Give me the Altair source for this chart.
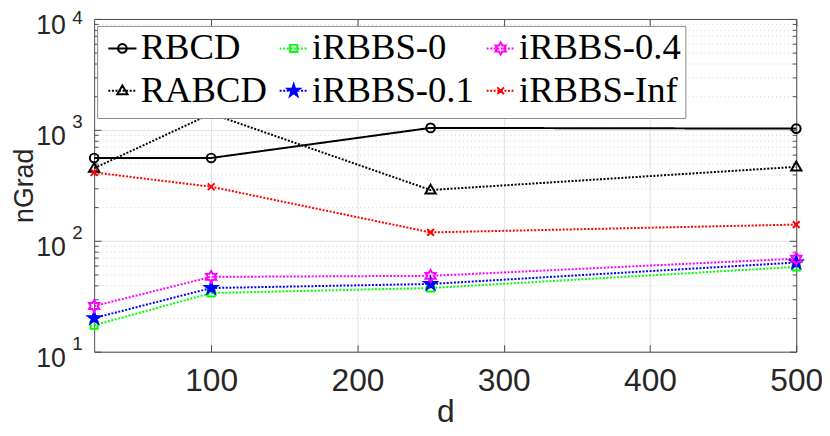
import math
import altair as alt
import pandas as pd

# ---------------- data ----------------
d_values = [20, 100, 250, 500]
series_names = ["RBCD", "RABCD", "iRBBS-0", "iRBBS-0.1", "iRBBS-0.4", "iRBBS-Inf"]
rbcd = [558, 558, 1042, 1027]
rabcd = [451, 1400, 287, 464]
irbbs_0 = [17.3, 33.8, 37.5, 58.1]
irbbs_01 = [20.1, 37.5, 40.8, 63.7]
irbbs_04 = [25.8, 47.3, 48.3, 69.0]
irbbs_inf = [413, 307, 119, 140]
series_values = [rbcd, rabcd, irbbs_0, irbbs_01, irbbs_04, irbbs_inf]

x_ticks = [100, 200, 300, 400, 500]
y_major = [10, 100, 1000, 10000]
y_minor = [m * 10 ** k for k in (1, 2, 3) for m in range(2, 10)]

rows = []
for name, vals in zip(series_names, series_values):
    for d, v in zip(d_values, vals):
        rows.append({"d": d, "value": v, "series": name})
df = pd.DataFrame(rows)

# ---------------- styles ----------------
colors = {"RBCD": "#000000", "RABCD": "#000000", "iRBBS-0": "#00ff00",
          "iRBBS-0.1": "#0000ff", "iRBBS-0.4": "#ff00ff", "iRBBS-Inf": "#ff0000"}
solid = {"RBCD": True}
markers = {"RBCD": "circle", "RABCD": "triangle", "iRBBS-0": "square",
           "iRBBS-0.1": "star", "iRBBS-0.4": "hexagram", "iRBBS-Inf": "x"}
filled = {"iRBBS-0.1": True}


def f(v):
    return f"{v:.4f}"


def marker_path(kind, s):
    """marker drawn in pixel units, returned in symbol units (divide by s)"""
    if kind == "circle":
        r = 4.4 / s
        return f"M{f(r)},0A{f(r)},{f(r)} 0 1,1 {f(-r)},0A{f(r)},{f(r)} 0 1,1 {f(r)},0Z"
    if kind == "triangle":
        pts = [(0, -5.4), (5.2, 3.6), (-5.2, 3.6)]
    elif kind == "square":
        h = 3.6
        pts = [(-h, -h), (h, -h), (h, h), (-h, h)]
    elif kind == "star":
        R, r = 6.4, 2.5
        pts = []
        for i in range(10):
            a = -math.pi / 2 + i * math.pi / 5
            rr = R if i % 2 == 0 else r
            pts.append((rr * math.cos(a), rr * math.sin(a)))
    elif kind == "hexagram":
        R = 6.0
        r = R / math.sqrt(3)
        pts = []
        for i in range(12):
            a = -math.pi / 2 + i * math.pi / 6
            rr = R if i % 2 == 0 else r
            pts.append((rr * math.cos(a), rr * math.sin(a)))
    elif kind == "x":
        h = 3.4 / s
        return f"M{f(-h)},{f(-h)}L{f(h)},{f(h)}M{f(-h)},{f(h)}L{f(h)},{f(-h)}"
    return "M" + "L".join(f"{f(x / s)},{f(y / s)}" for x, y in pts) + "Z"


LEG_HALF = 14.2


def legend_path(name, s):
    half = LEG_HALF
    if solid.get(name):
        line = f"M{f(-half / s)},0L{f(half / s)},0"
    else:
        segs = []
        x = -half
        while x < half:
            x2 = min(x + 2.0, half)
            segs.append(f"M{f(x / s)},0L{f(x2 / s)},0")
            x += 3.6
        line = "".join(segs)
    return line + marker_path(markers[name], s)


W, H = 709, 336
PT_SIZE = 100
LEG_SIZE = (2 * LEG_HALF) ** 2
s_pt = math.sqrt(PT_SIZE) / 2
s_leg = math.sqrt(LEG_SIZE) / 2

stroke_range = [colors[n] for n in series_names]
fill_range = [colors[n] if filled.get(n) else "transparent" for n in series_names]
dash_range = [[1, 0] if solid.get(n) else [2, 1.6] for n in series_names]
shape_range = [marker_path(markers[n], s_pt) for n in series_names]
leg_shape = [legend_path(n, s_leg) for n in series_names]

MAJOR = "abs(log(datum.value)/LN10 - round(log(datum.value)/LN10)) < 0.001"
AXC = "#4d4d4d"
TXT = "#262626"
SANS = "Liberation Sans"

x_scale = alt.Scale(domain=[20, 500], nice=False, zero=False)
y_scale = alt.Scale(type="log", domain=[10, 10000], nice=False)

# ---------------- layer A: lines + main axes ----------------
lines = alt.Chart().mark_line(strokeWidth=2, strokeCap="butt").encode(
    x=alt.X("d:Q", scale=x_scale, title="d",
            axis=alt.Axis(values=x_ticks, grid=True, gridColor="#e3e3e3", gridWidth=1,
                          ticks=False, tickSize=0, domain=True, domainColor=AXC,
                          labelFont=SANS, labelFontSize=32, labelColor=TXT,
                          labelPadding=14, labelFlush=False, labelOverlap=False,
                          titleFont=SANS, titleFontSize=32, titleFontWeight="normal",
                          titleColor=TXT, titlePadding=0)),
    y=alt.Y("value:Q", scale=y_scale, title="nGrad",
            axis=alt.Axis(values=y_major + y_minor, grid=True,
                          gridDash={"condition": {"test": MAJOR, "value": []}, "value": [1, 3]},
                          gridColor={"condition": {"test": MAJOR, "value": "#e3e3e3"}, "value": "#d2d2d2"},
                          gridWidth=1, ticks=False, tickSize=0, domain=True, domainColor=AXC,
                          labelExpr=f"{MAJOR} ? '10' : ''", labelFont=SANS, labelFontSize=27,
                          labelColor=TXT, labelPadding=29, labelOffset=7, labelOverlap=False,
                          labelFlush=False,
                          titleFont=SANS, titleFontSize=27, titleFontWeight="normal",
                          titleColor=TXT, titlePadding=-3)),
    stroke=alt.Stroke("series:N", scale=alt.Scale(domain=series_names, range=stroke_range), legend=None),
    strokeDash=alt.StrokeDash("series:N", scale=alt.Scale(domain=series_names, range=dash_range), legend=None),
    detail="series:N",
)

# ---------------- layer B: markers + exponent labels + top border ----------------
points = alt.Chart().mark_point(filled=False, strokeWidth=2, opacity=1, size=PT_SIZE).encode(
    x=alt.X("d:Q", scale=x_scale, title=None,
            axis=alt.Axis(orient="bottom", offset=-H, values=x_ticks, grid=False, labels=False,
                          ticks=True, tickSize=7, tickColor=AXC, domain=True, domainColor=AXC)),
    y=alt.Y("value:Q", scale=y_scale, title=None,
            axis=alt.Axis(orient="left", values=y_major, grid=False, ticks=False, tickSize=0,
                          domain=False, labelExpr="'' + round(log(datum.value)/LN10)",
                          labelFont=SANS, labelFontSize=19, labelColor=TXT, labelPadding=12,
                          labelOffset={"condition": {"test": "datum.value > 5000", "value": -1},
                                       "value": -8},
                          labelOverlap=False, labelFlush=False)),
    shape=alt.Shape("series:N", scale=alt.Scale(domain=series_names, range=shape_range), legend=None),
    stroke=alt.Stroke("series:N", scale=alt.Scale(domain=series_names, range=stroke_range), legend=None),
    fill=alt.Fill("series:N", scale=alt.Scale(domain=series_names, range=fill_range), legend=None),
)

# ---------------- layer C: legend + inward ticks left / bottom ----------------
legend_layer = alt.Chart().transform_filter("datum.value < 0").mark_point(
    filled=False, strokeWidth=2, opacity=1).encode(
    x=alt.X("d:Q", scale=x_scale, title=None,
            axis=alt.Axis(orient="top", offset=-H, values=x_ticks, grid=False, labels=False,
                          ticks=True, tickSize=7, tickColor=AXC, domain=False)),
    y=alt.Y("value:Q", scale=y_scale, title=None,
            axis=alt.Axis(orient="right", offset=-W, values=y_major + y_minor, grid=False,
                          labels=False, ticks=True, tickColor=AXC,
                          tickSize={"condition": {"test": MAJOR, "value": 7}, "value": 4},
                          domain=False)),
    shape=alt.Shape("series:N", scale=alt.Scale(domain=series_names, range=leg_shape), title=" "),
    stroke=alt.Stroke("series:N", scale=alt.Scale(domain=series_names, range=stroke_range), title=" "),
    fill=alt.Fill("series:N", scale=alt.Scale(domain=series_names, range=fill_range),
                  title=" ",
                  legend=alt.Legend(orient="none", legendX=3, legendY=7, columns=3,
                                    direction="vertical", columnPadding=5, rowPadding=5,
                                    padding=4, strokeColor="#8c8c8c", fillColor="white",
                                    cornerRadius=0, labelFont="Liberation Serif",
                                    labelFontSize=37, labelColor="#000000", labelLimit=400,
                                    symbolSize=LEG_SIZE, symbolStrokeWidth=2, symbolOffset=3,
                                    labelOffset=0, zindex=1,
                                    title=" ", titleOrient="bottom", titleFontSize=5,
                                    titlePadding=0, titleFont=SANS)),
)

# ---------------- layer D: inward ticks on right border ----------------
right_layer = alt.Chart().transform_filter("datum.value < 0").mark_point(opacity=0).encode(
    x=alt.X("d:Q", scale=x_scale, title=None, axis=None),
    y=alt.Y("value:Q", scale=y_scale, title=None,
            axis=alt.Axis(orient="left", offset=-W, values=y_major + y_minor, grid=False,
                          labels=False, ticks=True, tickColor=AXC,
                          tickSize={"condition": {"test": MAJOR, "value": 7}, "value": 4},
                          domain=True, domainColor=AXC)),
)

chart = alt.layer(lines, points, legend_layer, right_layer, data=df).resolve_scale(
    shape="independent", stroke="independent", fill="independent", strokeDash="independent"
).resolve_axis(x="independent", y="independent").properties(
    width=W, height=H,
    autosize=alt.AutoSizeParams(type="none"),
    padding={"left": 87, "top": 9, "right": 26, "bottom": 78},
).configure_view(stroke=None)

chart.save("out.html", embed_options={"renderer": "svg", "actions": False})
